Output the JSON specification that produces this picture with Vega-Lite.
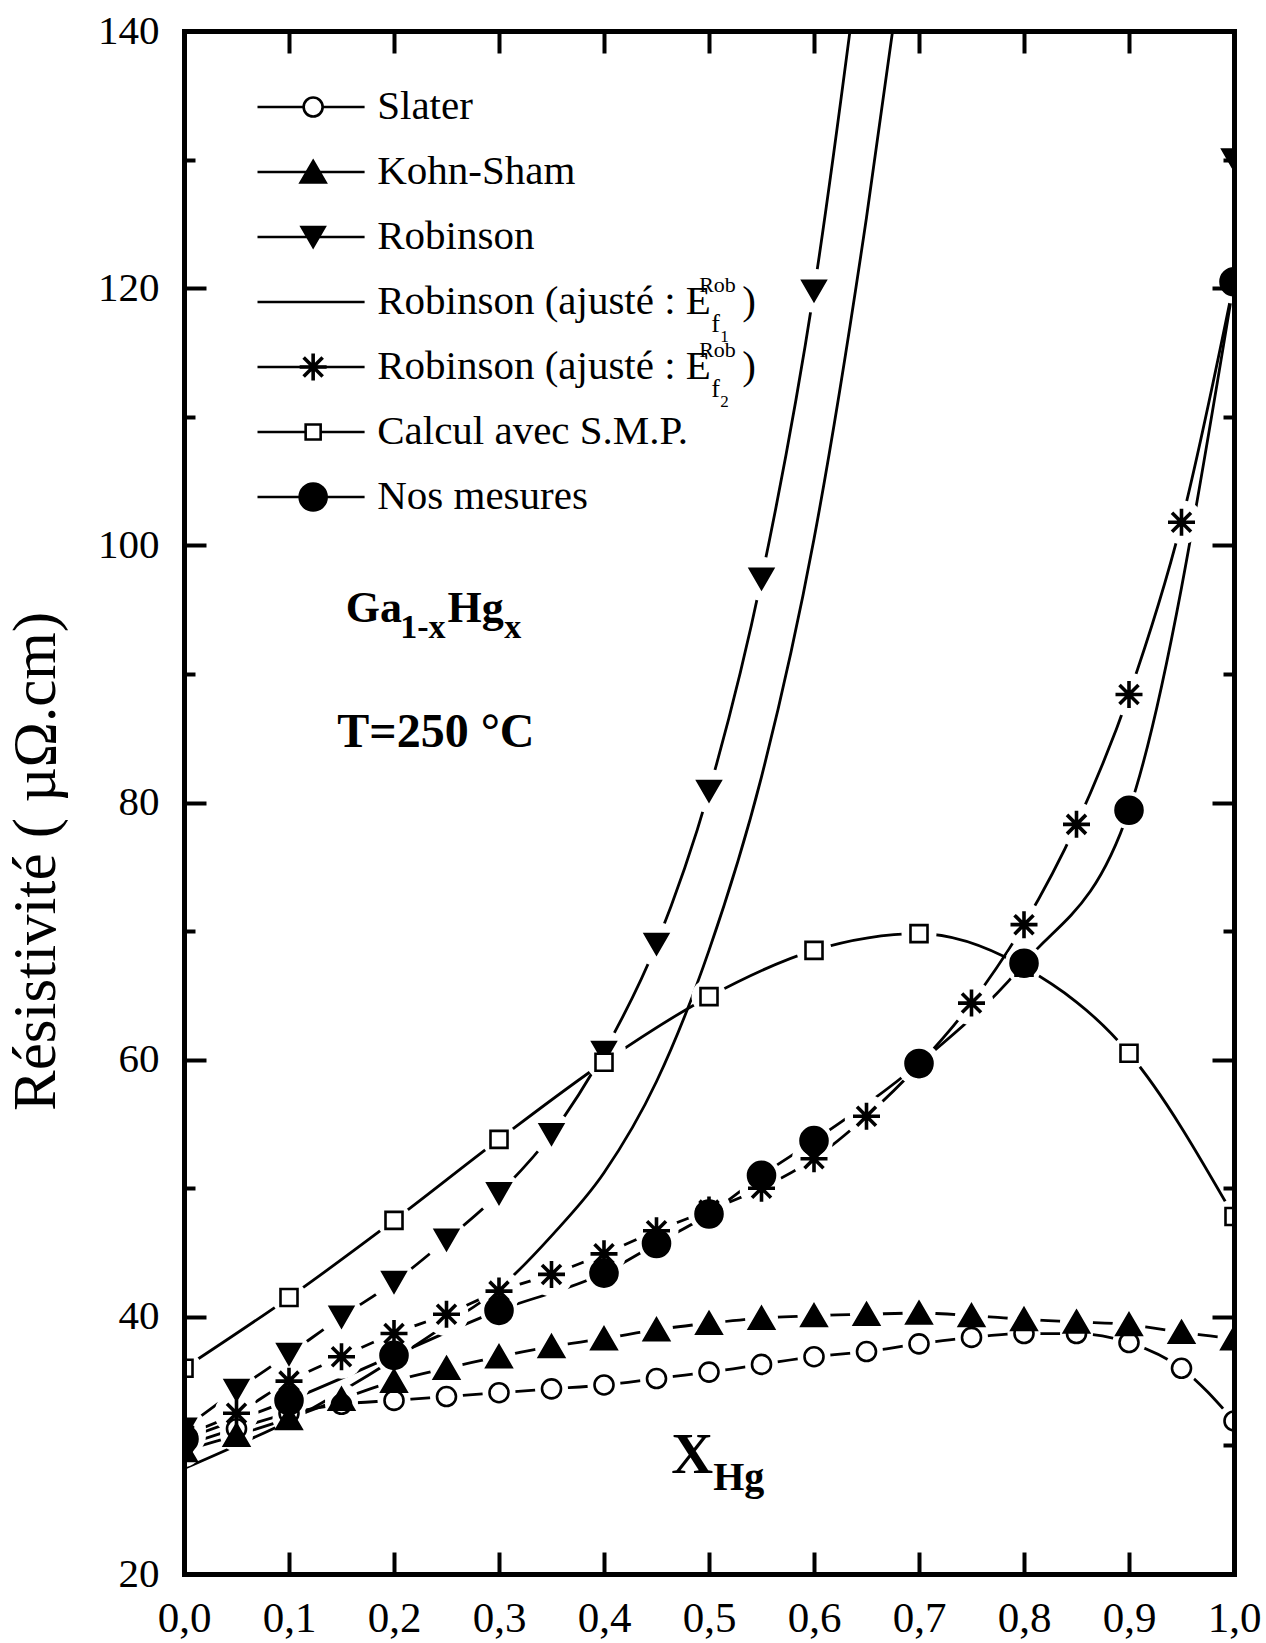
{
  "$schema": "https://vega.github.io/schema/vega-lite/v6.json",
  "width": 1050,
  "height": 1543,
  "autosize": {"type": "none"},
  "padding": {"left": 184, "top": 31, "right": 32, "bottom": 69},
  "background": "white",
  "config": {"view": {"stroke": null}},
  "datasets": {
    "main": [
      {"s": "Slater", "x": 0.0, "rho": 30.0}, {"s": "Slater", "x": 0.05, "rho": 31.3}, {"s": "Slater", "x": 0.1, "rho": 32.5},
      {"s": "Slater", "x": 0.15, "rho": 33.2}, {"s": "Slater", "x": 0.2, "rho": 33.5}, {"s": "Slater", "x": 0.25, "rho": 33.8},
      {"s": "Slater", "x": 0.3, "rho": 34.1}, {"s": "Slater", "x": 0.35, "rho": 34.4}, {"s": "Slater", "x": 0.4, "rho": 34.7},
      {"s": "Slater", "x": 0.45, "rho": 35.2}, {"s": "Slater", "x": 0.5, "rho": 35.7}, {"s": "Slater", "x": 0.55, "rho": 36.3},
      {"s": "Slater", "x": 0.6, "rho": 36.9}, {"s": "Slater", "x": 0.65, "rho": 37.3}, {"s": "Slater", "x": 0.7, "rho": 37.9},
      {"s": "Slater", "x": 0.75, "rho": 38.4}, {"s": "Slater", "x": 0.8, "rho": 38.7}, {"s": "Slater", "x": 0.85, "rho": 38.7},
      {"s": "Slater", "x": 0.9, "rho": 38.0}, {"s": "Slater", "x": 0.95, "rho": 36.0}, {"s": "Slater", "x": 1.0, "rho": 31.9},
      {"s": "Kohn-Sham", "x": 0.0, "rho": 29.6}, {"s": "Kohn-Sham", "x": 0.05, "rho": 30.8}, {"s": "Kohn-Sham", "x": 0.1, "rho": 32.1},
      {"s": "Kohn-Sham", "x": 0.15, "rho": 33.6}, {"s": "Kohn-Sham", "x": 0.2, "rho": 35.0}, {"s": "Kohn-Sham", "x": 0.25, "rho": 36.0},
      {"s": "Kohn-Sham", "x": 0.3, "rho": 36.9}, {"s": "Kohn-Sham", "x": 0.35, "rho": 37.7}, {"s": "Kohn-Sham", "x": 0.4, "rho": 38.3},
      {"s": "Kohn-Sham", "x": 0.45, "rho": 39.0}, {"s": "Kohn-Sham", "x": 0.5, "rho": 39.5}, {"s": "Kohn-Sham", "x": 0.55, "rho": 39.9},
      {"s": "Kohn-Sham", "x": 0.6, "rho": 40.1}, {"s": "Kohn-Sham", "x": 0.65, "rho": 40.2}, {"s": "Kohn-Sham", "x": 0.7, "rho": 40.3},
      {"s": "Kohn-Sham", "x": 0.75, "rho": 40.1}, {"s": "Kohn-Sham", "x": 0.8, "rho": 39.8}, {"s": "Kohn-Sham", "x": 0.85, "rho": 39.6},
      {"s": "Kohn-Sham", "x": 0.9, "rho": 39.4}, {"s": "Kohn-Sham", "x": 0.95, "rho": 38.8}, {"s": "Kohn-Sham", "x": 1.0, "rho": 38.3},
      {"s": "Robinson", "x": 0.0, "rho": 31.3}, {"s": "Robinson", "x": 0.05, "rho": 34.3}, {"s": "Robinson", "x": 0.1, "rho": 37.1},
      {"s": "Robinson", "x": 0.15, "rho": 40.0}, {"s": "Robinson", "x": 0.2, "rho": 42.7}, {"s": "Robinson", "x": 0.25, "rho": 46.0},
      {"s": "Robinson", "x": 0.3, "rho": 49.6}, {"s": "Robinson", "x": 0.35, "rho": 54.2}, {"s": "Robinson", "x": 0.4, "rho": 60.6},
      {"s": "Robinson", "x": 0.45, "rho": 69.0}, {"s": "Robinson", "x": 0.5, "rho": 80.9}, {"s": "Robinson", "x": 0.55, "rho": 97.4},
      {"s": "Robinson", "x": 0.6, "rho": 119.8}, {"s": "Robinson", "x": 0.65, "rho": 150.0},
      {"s": "Robinson", "x": 1.0, "rho": 130.0, "iso": true},
      {"s": "Ef2", "x": 0.0, "rho": 30.8}, {"s": "Ef2", "x": 0.05, "rho": 32.5}, {"s": "Ef2", "x": 0.1, "rho": 35.0},
      {"s": "Ef2", "x": 0.15, "rho": 36.9}, {"s": "Ef2", "x": 0.2, "rho": 38.7}, {"s": "Ef2", "x": 0.25, "rho": 40.2},
      {"s": "Ef2", "x": 0.3, "rho": 42.0}, {"s": "Ef2", "x": 0.35, "rho": 43.3}, {"s": "Ef2", "x": 0.4, "rho": 44.9},
      {"s": "Ef2", "x": 0.45, "rho": 46.7}, {"s": "Ef2", "x": 0.5, "rho": 48.3}, {"s": "Ef2", "x": 0.55, "rho": 50.0},
      {"s": "Ef2", "x": 0.6, "rho": 52.3}, {"s": "Ef2", "x": 0.65, "rho": 55.6}, {"s": "Ef2", "x": 0.7, "rho": 59.6},
      {"s": "Ef2", "x": 0.75, "rho": 64.4}, {"s": "Ef2", "x": 0.8, "rho": 70.5}, {"s": "Ef2", "x": 0.85, "rho": 78.3},
      {"s": "Ef2", "x": 0.9, "rho": 88.4}, {"s": "Ef2", "x": 0.95, "rho": 101.8}, {"s": "Ef2", "x": 1.0, "rho": 120.5},
      {"s": "SMP", "x": 0.0, "rho": 36.0}, {"s": "SMP", "x": 0.1, "rho": 41.5}, {"s": "SMP", "x": 0.2, "rho": 47.5},
      {"s": "SMP", "x": 0.3, "rho": 53.8}, {"s": "SMP", "x": 0.4, "rho": 59.8}, {"s": "SMP", "x": 0.5, "rho": 64.9},
      {"s": "SMP", "x": 0.6, "rho": 68.5}, {"s": "SMP", "x": 0.7, "rho": 69.8}, {"s": "SMP", "x": 0.8, "rho": 67.2},
      {"s": "SMP", "x": 0.9, "rho": 60.5}, {"s": "SMP", "x": 1.0, "rho": 47.8},
      {"s": "Nos mesures", "x": 0.0, "rho": 30.5}, {"s": "Nos mesures", "x": 0.1, "rho": 33.5}, {"s": "Nos mesures", "x": 0.2, "rho": 37.0},
      {"s": "Nos mesures", "x": 0.3, "rho": 40.5}, {"s": "Nos mesures", "x": 0.4, "rho": 43.4}, {"s": "Nos mesures", "x": 0.45, "rho": 45.7},
      {"s": "Nos mesures", "x": 0.5, "rho": 48.0}, {"s": "Nos mesures", "x": 0.55, "rho": 51.0}, {"s": "Nos mesures", "x": 0.6, "rho": 53.7},
      {"s": "Nos mesures", "x": 0.7, "rho": 59.7}, {"s": "Nos mesures", "x": 0.8, "rho": 67.5}, {"s": "Nos mesures", "x": 0.9, "rho": 79.4},
      {"s": "Nos mesures", "x": 1.0, "rho": 120.5}
    ],
    "ef1": [
      {"x": 0.0, "rho": 28.2}, {"x": 0.05, "rho": 30.0}, {"x": 0.1, "rho": 31.9}, {"x": 0.15, "rho": 34.2},
      {"x": 0.2, "rho": 36.7}, {"x": 0.25, "rho": 39.4}, {"x": 0.3, "rho": 42.2}, {"x": 0.35, "rho": 46.3},
      {"x": 0.4, "rho": 51.2}, {"x": 0.45, "rho": 58.3}, {"x": 0.5, "rho": 68.5}, {"x": 0.55, "rho": 82.0},
      {"x": 0.6, "rho": 100.5}, {"x": 0.65, "rho": 125.5}, {"x": 0.68, "rho": 143.0}
    ],
    "legend": [
      {"s": "Slater", "row": 1, "label": "Slater"},
      {"s": "Kohn-Sham", "row": 2, "label": "Kohn-Sham"},
      {"s": "Robinson", "row": 3, "label": "Robinson"},
      {"s": "Ef1", "row": 4, "label": "Robinson (ajusté : E", "sub": "1"},
      {"s": "Ef2", "row": 5, "label": "Robinson (ajusté : E", "sub": "2"},
      {"s": "SMP", "row": 6, "label": "Calcul avec S.M.P."},
      {"s": "Nos mesures", "row": 7, "label": "Nos mesures"}
    ]
  },
  "resolve": {"scale": {"y": "independent", "shape": "independent"}, "axis": {"x": "independent"}},
  "layer": [
    {
      "data": {"name": "ef1"},
      "mark": {"type": "line", "clip": true, "color": "black", "strokeWidth": 2.8, "interpolate": "monotone"},
      "encoding": {
        "x": {"field": "x", "type": "quantitative", "scale": {"domain": [0, 1], "nice": false, "zero": false},
          "axis": {"orient": "bottom", "values": [0, 0.1, 0.2, 0.3, 0.4, 0.5, 0.6, 0.7, 0.8, 0.9, 1],
            "labelExpr": "replace(format(datum.value, '.1f'), '.', ',')", "title": null,
            "domainWidth": 5, "domainColor": "black", "domainCap": "square",
            "tickSize": -22, "tickWidth": 4, "tickColor": "black",
            "labelFont": "Liberation Serif", "labelFontSize": 43, "labelColor": "black", "labelPadding": 45,
            "labelBaseline": "top", "labelFlush": false, "labelOverlap": false, "grid": false, "zindex": 1}},
        "y": {"field": "rho", "type": "quantitative", "scale": {"domain": [20, 140], "nice": false, "zero": false},
          "axis": {"orient": "left", "values": [20, 40, 60, 80, 100, 120, 140],
            "title": "Résistivité ( µΩ.cm)", "titleFont": "Liberation Serif", "titleFontSize": 61, "titleFontWeight": "normal",
            "titleColor": "black", "titleAngle": 270, "titleX": -130, "titleY": 830, "titleAlign": "center", "titleBaseline": "alphabetic",
            "domainWidth": 5, "domainColor": "black", "domainCap": "square",
            "tickSize": -22, "tickWidth": 4, "tickColor": "black",
            "labelFont": "Liberation Serif", "labelFontSize": 41, "labelColor": "black", "labelPadding": 47,
            "labelFlush": false, "labelOverlap": false, "grid": false, "zindex": 1}}
      }
    },
    {
      "data": {"name": "main"},
      "transform": [{"filter": "!datum.iso"}],
      "mark": {"type": "line", "clip": true, "color": "black", "strokeWidth": 2.8, "interpolate": "monotone"},
      "encoding": {
        "x": {"field": "x", "type": "quantitative", "scale": {"domain": [0, 1], "nice": false, "zero": false}, "axis": null},
        "y": {"field": "rho", "type": "quantitative", "scale": {"domain": [20, 140], "nice": false, "zero": false}, "axis": null},
        "detail": {"field": "s", "type": "nominal"}
      }
    },
    {
      "data": {"name": "main"},
      "transform": [{"filter": "datum.s === 'Slater' || datum.s === 'Kohn-Sham'"}],
      "mark": {"type": "point", "clip": true, "filled": true, "color": "white", "strokeWidth": 0, "shape": "circle", "size": 1089, "opacity": 1},
      "encoding": {
        "x": {"field": "x", "type": "quantitative", "scale": {"domain": [0, 1], "nice": false, "zero": false}, "axis": null},
        "y": {"field": "rho", "type": "quantitative", "scale": {"domain": [20, 140], "nice": false, "zero": false}, "axis": null}
      }
    },
    {
      "data": {"name": "main"},
      "transform": [{"filter": "datum.s === 'Robinson' || datum.s === 'Ef2'"}],
      "mark": {"type": "point", "clip": true, "filled": true, "color": "white", "strokeWidth": 0, "shape": "circle", "size": 1936, "opacity": 1},
      "encoding": {
        "x": {"field": "x", "type": "quantitative", "scale": {"domain": [0, 1], "nice": false, "zero": false}, "axis": null},
        "y": {"field": "rho", "type": "quantitative", "scale": {"domain": [20, 140], "nice": false, "zero": false}, "axis": null}
      }
    },
    {
      "data": {"name": "main"},
      "transform": [{"filter": "datum.s === 'SMP'"}],
      "mark": {"type": "point", "clip": true, "filled": true, "color": "white", "strokeWidth": 0, "shape": "circle", "size": 1225, "opacity": 1},
      "encoding": {
        "x": {"field": "x", "type": "quantitative", "scale": {"domain": [0, 1], "nice": false, "zero": false}, "axis": null},
        "y": {"field": "rho", "type": "quantitative", "scale": {"domain": [20, 140], "nice": false, "zero": false}, "axis": null}
      }
    },
    {
      "data": {"name": "main"},
      "transform": [{"filter": "datum.s === 'Nos mesures'"}],
      "mark": {"type": "point", "clip": true, "filled": true, "color": "white", "strokeWidth": 0, "shape": "circle", "size": 1444, "opacity": 1},
      "encoding": {
        "x": {"field": "x", "type": "quantitative", "scale": {"domain": [0, 1], "nice": false, "zero": false}, "axis": null},
        "y": {"field": "rho", "type": "quantitative", "scale": {"domain": [20, 140], "nice": false, "zero": false}, "axis": null}
      }
    },
    {
      "data": {"name": "main"},
      "transform": [{"filter": "datum.s !== 'Ef2'"}],
      "mark": {"type": "point", "clip": true, "filled": true, "stroke": "black", "strokeWidth": 2.6, "size": 4, "opacity": 1},
      "encoding": {
        "x": {"field": "x", "type": "quantitative", "scale": {"domain": [0, 1], "nice": false, "zero": false}, "axis": null},
        "y": {"field": "rho", "type": "quantitative", "scale": {"domain": [20, 140], "nice": false, "zero": false}, "axis": null},
        "shape": {"field": "s", "type": "nominal", "legend": null,
          "scale": {"domain": ["Slater", "Kohn-Sham", "Robinson", "SMP", "Nos mesures"],
            "range": [
              "M9.5,0A9.5,9.5,0,1,1,-9.5,0A9.5,9.5,0,1,1,9.5,0Z",
              "M0,-11L12.5,10.5L-12.5,10.5Z",
              "M-11.5,-10L11.5,-10L0,10Z",
              "M-8.5,-8.5L8.5,-8.5L8.5,8.5L-8.5,8.5Z",
              "M13.5,0A13.5,13.5,0,1,1,-13.5,0A13.5,13.5,0,1,1,13.5,0Z"
            ]}},
        "fill": {"field": "s", "type": "nominal", "legend": null,
          "scale": {"domain": ["Slater", "Kohn-Sham", "Robinson", "Ef2", "SMP", "Nos mesures"], "range": ["white", "black", "black", "transparent", "white", "black"]}}
      }
    },
    {
      "data": {"name": "main"},
      "transform": [{"filter": "datum.s === 'Ef2'"}],
      "mark": {"type": "point", "clip": true, "filled": false, "stroke": "black", "strokeWidth": 3.6, "size": 4, "opacity": 1,
        "shape": "M0,-13.5L0,13.5M-13.5,0L13.5,0M-9.5,-9.5L9.5,9.5M-9.5,9.5L9.5,-9.5"},
      "encoding": {
        "x": {"field": "x", "type": "quantitative", "scale": {"domain": [0, 1], "nice": false, "zero": false}, "axis": null},
        "y": {"field": "rho", "type": "quantitative", "scale": {"domain": [20, 140], "nice": false, "zero": false}, "axis": null}
      }
    },
    {
      "data": {"name": "main"},
      "mark": {"type": "point", "opacity": 0},
      "encoding": {
        "x": {"field": "x", "type": "quantitative", "scale": {"domain": [0, 1], "nice": false, "zero": false},
          "axis": {"orient": "top", "values": [0, 0.1, 0.2, 0.3, 0.4, 0.5, 0.6, 0.7, 0.8, 0.9, 1], "labels": false, "title": null,
            "domainWidth": 5, "domainColor": "black", "domainCap": "square", "tickSize": -22, "tickWidth": 4, "tickColor": "black", "grid": false, "zindex": 1}},
        "y": {"field": "rho", "type": "quantitative", "scale": {"domain": [20, 140], "nice": false, "zero": false},
          "axis": {"orient": "right", "values": [20, 40, 60, 80, 100, 120, 140], "labels": false, "title": null,
            "domainWidth": 5, "domainColor": "black", "domainCap": "square", "tickSize": -22, "tickWidth": 4, "tickColor": "black", "grid": false, "zindex": 1}}
      }
    },
    {
      "data": {"name": "main"},
      "mark": {"type": "point", "opacity": 0},
      "encoding": {
        "x": {"field": "x", "type": "quantitative", "scale": {"domain": [0, 1], "nice": false, "zero": false}, "axis": null},
        "y": {"field": "rho", "type": "quantitative", "scale": {"domain": [20, 140], "nice": false, "zero": false},
          "axis": {"orient": "left", "values": [30, 50, 70, 90, 110, 130], "labels": false, "title": null, "domain": false,
            "tickSize": -11, "tickWidth": 4, "tickColor": "black", "grid": false, "zindex": 1}}
      }
    },
    {
      "data": {"name": "main"},
      "mark": {"type": "point", "opacity": 0},
      "encoding": {
        "x": {"field": "x", "type": "quantitative", "scale": {"domain": [0, 1], "nice": false, "zero": false}, "axis": null},
        "y": {"field": "rho", "type": "quantitative", "scale": {"domain": [20, 140], "nice": false, "zero": false},
          "axis": {"orient": "right", "values": [30, 50, 70, 90, 110, 130], "labels": false, "title": null, "domain": false,
            "tickSize": -11, "tickWidth": 4, "tickColor": "black", "grid": false, "zindex": 1}}
      }
    },
    {
      "data": {"values": [{}]},
      "mark": {"type": "text", "text": "Ga", "font": "Liberation Serif", "fontSize": 44, "fontWeight": "bold", "align": "left", "baseline": "alphabetic", "color": "black"},
      "encoding": {
        "x": {"datum": 0.154, "type": "quantitative", "axis": null},
        "y": {"datum": 94.0, "type": "quantitative", "scale": {"domain": [20, 140], "nice": false, "zero": false}, "axis": null}
      }
    },
    {
      "data": {"values": [{}]},
      "mark": {"type": "text", "text": "1-x", "font": "Liberation Serif", "fontSize": 34, "fontWeight": "bold", "align": "left", "baseline": "alphabetic", "color": "black"},
      "encoding": {
        "x": {"datum": 0.206, "type": "quantitative", "axis": null},
        "y": {"datum": 92.8, "type": "quantitative", "scale": {"domain": [20, 140], "nice": false, "zero": false}, "axis": null}
      }
    },
    {
      "data": {"values": [{}]},
      "mark": {"type": "text", "text": "Hg", "font": "Liberation Serif", "fontSize": 44, "fontWeight": "bold", "align": "left", "baseline": "alphabetic", "color": "black"},
      "encoding": {
        "x": {"datum": 0.251, "type": "quantitative", "axis": null},
        "y": {"datum": 94.0, "type": "quantitative", "scale": {"domain": [20, 140], "nice": false, "zero": false}, "axis": null}
      }
    },
    {
      "data": {"values": [{}]},
      "mark": {"type": "text", "text": "x", "font": "Liberation Serif", "fontSize": 34, "fontWeight": "bold", "align": "left", "baseline": "alphabetic", "color": "black"},
      "encoding": {
        "x": {"datum": 0.305, "type": "quantitative", "axis": null},
        "y": {"datum": 92.8, "type": "quantitative", "scale": {"domain": [20, 140], "nice": false, "zero": false}, "axis": null}
      }
    },
    {
      "data": {"values": [{}]},
      "mark": {"type": "text", "text": "T=250 °C", "font": "Liberation Serif", "fontSize": 48, "fontWeight": "bold", "align": "left", "baseline": "alphabetic", "color": "black"},
      "encoding": {
        "x": {"datum": 0.146, "type": "quantitative", "axis": null},
        "y": {"datum": 84.3, "type": "quantitative", "scale": {"domain": [20, 140], "nice": false, "zero": false}, "axis": null}
      }
    },
    {
      "data": {"values": [{}]},
      "mark": {"type": "text", "text": "X", "font": "Liberation Serif", "fontSize": 58, "fontWeight": "bold", "align": "left", "baseline": "alphabetic", "color": "black"},
      "encoding": {
        "x": {"datum": 0.464, "type": "quantitative", "axis": null},
        "y": {"datum": 27.85, "type": "quantitative", "scale": {"domain": [20, 140], "nice": false, "zero": false}, "axis": null}
      }
    },
    {
      "data": {"values": [{}]},
      "mark": {"type": "text", "text": "Hg", "font": "Liberation Serif", "fontSize": 40, "fontWeight": "bold", "align": "left", "baseline": "alphabetic", "color": "black"},
      "encoding": {
        "x": {"datum": 0.504, "type": "quantitative", "axis": null},
        "y": {"datum": 26.5, "type": "quantitative", "scale": {"domain": [20, 140], "nice": false, "zero": false}, "axis": null}
      }
    },
    {
      "data": {"name": "legend"},
      "mark": {"type": "rule", "color": "black", "strokeWidth": 2.6},
      "encoding": {
        "x": {"datum": 0.070, "type": "quantitative", "axis": null},
        "x2": {"datum": 0.172},
        "y": {"field": "row", "type": "quantitative", "scale": {"domain": [-0.1692, 23.569], "reverse": true, "nice": false, "zero": false}, "axis": null}
      }
    },
    {
      "data": {"name": "legend"},
      "transform": [{"filter": "datum.s !== 'Ef1' && datum.s !== 'Ef2'"}],
      "mark": {"type": "point", "filled": true, "stroke": "black", "strokeWidth": 2.6, "size": 4, "opacity": 1},
      "encoding": {
        "x": {"datum": 0.123, "type": "quantitative", "axis": null},
        "y": {"field": "row", "type": "quantitative", "scale": {"domain": [-0.1692, 23.569], "reverse": true, "nice": false, "zero": false}, "axis": null},
        "shape": {"field": "s", "type": "nominal", "legend": null,
          "scale": {"domain": ["Slater", "Kohn-Sham", "Robinson", "SMP", "Nos mesures"],
            "range": [
              "M9.5,0A9.5,9.5,0,1,1,-9.5,0A9.5,9.5,0,1,1,9.5,0Z",
              "M0,-11L12.5,10.5L-12.5,10.5Z",
              "M-11.5,-10L11.5,-10L0,10Z",
              "M-7.5,-7.5L7.5,-7.5L7.5,7.5L-7.5,7.5Z",
              "M13.5,0A13.5,13.5,0,1,1,-13.5,0A13.5,13.5,0,1,1,13.5,0Z"
            ]}},
        "fill": {"field": "s", "type": "nominal", "legend": null}
      }
    },
    {
      "data": {"name": "legend"},
      "transform": [{"filter": "datum.s === 'Ef2'"}],
      "mark": {"type": "point", "filled": false, "stroke": "black", "strokeWidth": 3.6, "size": 4, "opacity": 1,
        "shape": "M0,-13.5L0,13.5M-13.5,0L13.5,0M-9.5,-9.5L9.5,9.5M-9.5,9.5L9.5,-9.5"},
      "encoding": {
        "x": {"datum": 0.123, "type": "quantitative", "axis": null},
        "y": {"field": "row", "type": "quantitative", "scale": {"domain": [-0.1692, 23.569], "reverse": true, "nice": false, "zero": false}, "axis": null}
      }
    },
    {
      "data": {"name": "legend"},
      "mark": {"type": "text", "font": "Liberation Serif", "fontSize": 41, "align": "left", "baseline": "middle", "color": "black"},
      "encoding": {
        "x": {"datum": 0.184, "type": "quantitative", "axis": null},
        "y": {"field": "row", "type": "quantitative", "scale": {"domain": [-0.1692, 23.569], "reverse": true, "nice": false, "zero": false}, "axis": null},
        "text": {"field": "label", "type": "nominal"}
      }
    },
    {
      "data": {"name": "legend"},
      "transform": [{"filter": "datum.sub"}],
      "mark": {"type": "text", "text": "Rob", "font": "Liberation Serif", "fontSize": 22, "align": "left", "baseline": "alphabetic", "dx": 322, "dy": -10, "color": "black"},
      "encoding": {
        "x": {"datum": 0.184, "type": "quantitative", "axis": null},
        "y": {"field": "row", "type": "quantitative", "scale": {"domain": [-0.1692, 23.569], "reverse": true, "nice": false, "zero": false}, "axis": null}
      }
    },
    {
      "data": {"name": "legend"},
      "transform": [{"filter": "datum.sub"}],
      "mark": {"type": "text", "text": "f", "font": "Liberation Serif", "fontSize": 26, "align": "left", "baseline": "alphabetic", "dx": 334, "dy": 30, "color": "black"},
      "encoding": {
        "x": {"datum": 0.184, "type": "quantitative", "axis": null},
        "y": {"field": "row", "type": "quantitative", "scale": {"domain": [-0.1692, 23.569], "reverse": true, "nice": false, "zero": false}, "axis": null}
      }
    },
    {
      "data": {"name": "legend"},
      "transform": [{"filter": "datum.sub"}],
      "mark": {"type": "text", "font": "Liberation Serif", "fontSize": 17, "align": "left", "baseline": "alphabetic", "dx": 343, "dy": 40, "color": "black"},
      "encoding": {
        "x": {"datum": 0.184, "type": "quantitative", "axis": null},
        "y": {"field": "row", "type": "quantitative", "scale": {"domain": [-0.1692, 23.569], "reverse": true, "nice": false, "zero": false}, "axis": null},
        "text": {"field": "sub", "type": "nominal"}
      }
    },
    {
      "data": {"name": "legend"},
      "transform": [{"filter": "datum.sub"}],
      "mark": {"type": "text", "text": ")", "font": "Liberation Serif", "fontSize": 41, "align": "left", "baseline": "middle", "dx": 365, "color": "black"},
      "encoding": {
        "x": {"datum": 0.184, "type": "quantitative", "axis": null},
        "y": {"field": "row", "type": "quantitative", "scale": {"domain": [-0.1692, 23.569], "reverse": true, "nice": false, "zero": false}, "axis": null}
      }
    }
  ]
}
